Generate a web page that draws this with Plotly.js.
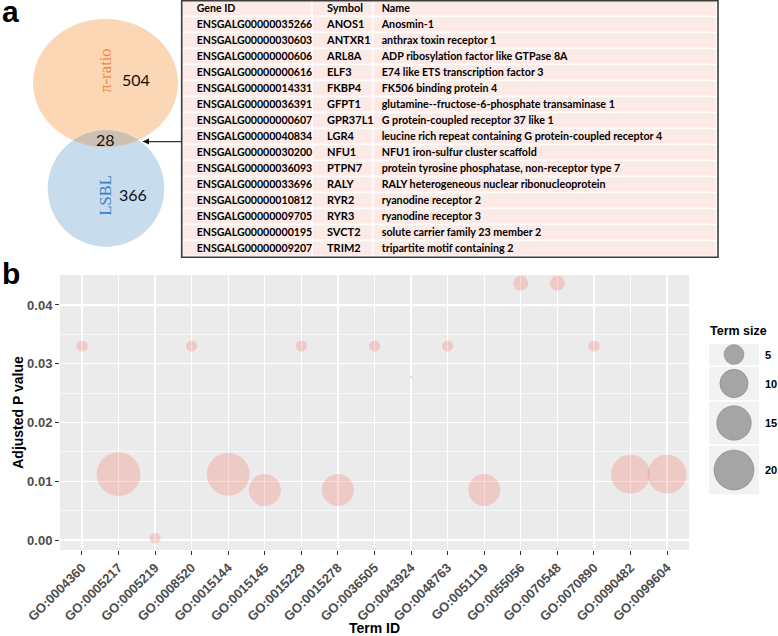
<!DOCTYPE html>
<html><head><meta charset="utf-8">
<script src="https://cdn.plot.ly/plotly-3.0.1.min.js"></script>
<style>html,body{margin:0;padding:0;background:#fff}#chart{width:778px;height:636px}</style>
</head><body><div id="chart"></div>
<script>
// ---------------- DATA ----------------
const vennLabels = ['π-ratio', 'LSBL'];
const vennCounts = [504, 28, 366];           // only π-ratio, shared, only LSBL

const tableHeader = ['Gene ID', 'Symbol', 'Name'];
const geneIds = ['ENSGALG00000035266','ENSGALG00000030603','ENSGALG00000000606','ENSGALG00000000616',
  'ENSGALG00000014331','ENSGALG00000036391','ENSGALG00000000607','ENSGALG00000040834','ENSGALG00000030200',
  'ENSGALG00000036093','ENSGALG00000033696','ENSGALG00000010812','ENSGALG00000009705','ENSGALG00000000195',
  'ENSGALG00000009207'];
const geneSymbols = ['ANOS1','ANTXR1','ARL8A','ELF3','FKBP4','GFPT1','GPR37L1','LGR4','NFU1','PTPN7','RALY',
  'RYR2','RYR3','SVCT2','TRIM2'];
const geneNames = ['Anosmin-1','anthrax toxin receptor 1','ADP ribosylation factor like GTPase 8A',
  'E74 like ETS transcription factor 3','FK506 binding protein 4',
  'glutamine--fructose-6-phosphate transaminase 1','G protein-coupled receptor 37 like 1',
  'leucine rich repeat containing G protein-coupled receptor 4','NFU1 iron-sulfur cluster scaffold',
  'protein tyrosine phosphatase, non-receptor type 7','RALY heterogeneous nuclear ribonucleoprotein',
  'ryanodine receptor 2','ryanodine receptor 3','solute carrier family 23 member 2',
  'tripartite motif containing 2'];

const goTerms = ['GO:0004360','GO:0005217','GO:0005219','GO:0008520','GO:0015144','GO:0015145',
  'GO:0015229','GO:0015278','GO:0036505','GO:0043924','GO:0048763','GO:0051119','GO:0055056',
  'GO:0070548','GO:0070890','GO:0090482','GO:0099604'];
const adjP = [0.0330, 0.0112, 0.0003, 0.0330, 0.0112, 0.0085, 0.0330, 0.0085, 0.0330, 0.0277,
  0.0330, 0.0085, 0.0437, 0.0437, 0.0330, 0.0112, 0.0112];
const termSize = [1.6, 24, 1.5, 1.6, 23, 12.8, 1.6, 12.8, 1.6, 0.1, 1.6, 12.8, 2.8, 2.8, 1.6, 19, 19];
const sizeBreaks = [5, 10, 15, 20];

// ---------------- LAYOUT HELPERS ----------------
const W = 778, H = 636;
const px = x => x / W;
const py = y => 1 - y / H;
const SIZEREF = 1 / 40;
const boldFont = 'Liberation Sans, Arial, sans-serif';
const tblFont = 'Lato, Open Sans, sans-serif';

// table geometry (pixels)
const tblLeft = 181.7, tblRight = 718, tblTop = 1.3, rowH = 16;
const colEdges = [tblLeft, 312.7, 374, tblRight];
const colTextX = [196.7, 327, 381.7];
const colFontSize = [10.6, 11, 10.7];
const nRows = geneIds.length + 1;
const tblBottom = tblTop + nRows * rowH;

// legend geometry
const keyTop = 343, keyHeights = [23, 35, 44, 50];
const keyBounds = [keyTop];
keyHeights.forEach(h => keyBounds.push(keyBounds[keyBounds.length - 1] + h));
const keyCenters = keyHeights.map((h, i) => (keyBounds[i] + keyBounds[i + 1]) / 2);

// venn geometry
const upper = {cx: 105.5, cy: 83, rx: 72.5, ry: 64};
const lower = {cx: 106, cy: 188.5, r: 58.3};
function lensPath() {
  const pts = [], N = 400;
  for (let i = 0; i <= N; i++) {
    const t = Math.PI * i / N;
    const x = upper.cx + upper.rx * Math.cos(t), y = upper.cy + upper.ry * Math.sin(t);
    if (Math.hypot(x - lower.cx, y - lower.cy) <= lower.r) pts.push([x, y]);
  }
  for (let i = 0; i <= N; i++) {
    const t = Math.PI + Math.PI * i / N;
    const x = lower.cx + lower.r * Math.cos(t), y = lower.cy + lower.r * Math.sin(t);
    if (((x - upper.cx) / upper.rx) ** 2 + ((y - upper.cy) / upper.ry) ** 2 <= 1) pts.push([x, y]);
  }
  return 'M' + pts.map(p => px(p[0]).toFixed(5) + ',' + py(p[1]).toFixed(5)).join('L') + 'Z';
}

// ---------------- TRACES ----------------
const traces = [];

// bubbles
traces.push({
  type: 'scatter', mode: 'markers', x: goTerms, y: adjP, xaxis: 'x', yaxis: 'y',
  marker: {size: termSize, sizemode: 'area', sizeref: SIZEREF, color: 'rgba(248,118,109,0.4)', line: {width: 0}},
  hoverinfo: 'x+y', cliponaxis: false
});

// legend keys
traces.push({
  type: 'scatter', mode: 'markers', x: sizeBreaks.map(() => 0.5), y: keyCenters, xaxis: 'x2', yaxis: 'y2',
  marker: {size: sizeBreaks, sizemode: 'area', sizeref: SIZEREF, color: 'rgba(0,0,0,0.45)',
    line: {width: 0.8, color: 'rgba(0,0,0,0.35)'}},
  hoverinfo: 'skip', cliponaxis: false
});

// table cells (background)
const rowEdges = [];
for (let i = 0; i <= nRows; i++) rowEdges.push(i - 0.5);
traces.push({
  type: 'heatmap', xaxis: 'x3', yaxis: 'y3', x: colEdges, y: rowEdges,
  z: rowEdges.slice(1).map(() => [1, 1, 1]),
  colorscale: [[0, '#FCEAE6'], [1, '#FCEAE6']], showscale: false, xgap: 1.6, ygap: 1.6, hoverinfo: 'skip'
});
// table text
const tableCols = [[tableHeader[0]].concat(geneIds), [tableHeader[1]].concat(geneSymbols), [tableHeader[2]].concat(geneNames)];
tableCols.forEach((col, c) => {
  traces.push({
    type: 'scatter', mode: 'text', xaxis: 'x3', yaxis: 'y3',
    x: col.map(() => colTextX[c]), y: col.map((_, i) => i), text: col,
    textposition: 'middle right', cliponaxis: false, hoverinfo: 'skip',
    textfont: {family: tblFont, size: colFontSize[c], color: '#000', weight: 'bold'}
  });
});

// ---------------- SHAPES ----------------
const shapes = [
  // panel background
  {type: 'rect', xref: 'x domain', yref: 'y domain', x0: 0, x1: 1, y0: 0, y1: 1,
    fillcolor: '#EBEBEB', line: {width: 0}, layer: 'below'},
  // venn
  {type: 'circle', xref: 'paper', yref: 'paper', x0: px(upper.cx - upper.rx), x1: px(upper.cx + upper.rx),
    y0: py(upper.cy + upper.ry), y1: py(upper.cy - upper.ry), fillcolor: '#FCD7B6', line: {width: 0}, layer: 'below'},
  {type: 'circle', xref: 'paper', yref: 'paper', x0: px(lower.cx - lower.r), x1: px(lower.cx + lower.r),
    y0: py(lower.cy + lower.r), y1: py(lower.cy - lower.r), fillcolor: '#C7DCED', line: {width: 0}, layer: 'below'},
  {type: 'path', xref: 'paper', yref: 'paper', path: lensPath(), fillcolor: '#CDBFB2', line: {width: 0}, layer: 'below'},
  // arrow
  {type: 'line', xref: 'paper', yref: 'paper', x0: px(147), x1: px(tblLeft), y0: py(141.6), y1: py(141.6),
    line: {color: '#333', width: 1.3}},
  {type: 'path', xref: 'paper', yref: 'paper',
    path: `M${px(142.5)},${py(141.6)}L${px(149)},${py(138.6)}L${px(149)},${py(144.6)}Z`,
    fillcolor: '#111', line: {width: 0}},
  // table frame
  {type: 'rect', xref: 'paper', yref: 'paper', x0: px(tblLeft), x1: px(tblRight), y0: py(tblBottom), y1: py(0.8),
    line: {color: '#3c3c3c', width: 1.6}, fillcolor: 'rgba(0,0,0,0)'}
];
// legend key backgrounds
keyHeights.forEach((h, i) => {
  shapes.push({type: 'rect', xref: 'x2 domain', yref: 'y2', x0: 0, x1: 1, y0: keyBounds[i] + 0.8, y1: keyBounds[i + 1] - 0.8,
    fillcolor: '#F2F2F2', line: {width: 0}, layer: 'below'});
});

// ---------------- ANNOTATIONS ----------------
const venn = (x, y, text, font, angle) => ({xref: 'paper', yref: 'paper', x: px(x), y: py(y), xanchor: 'center',
  yanchor: 'middle', text: text, textangle: angle || 0, showarrow: false, font: font});
const serif = 'Liberation Serif, DejaVu Serif, serif';
const annotations = [
  {xref: 'paper', yref: 'paper', x: px(0), y: py(11), xanchor: 'left', yanchor: 'middle', text: 'a', showarrow: false,
    font: {family: boldFont, size: 30, color: '#000', weight: 'bold'}},
  {xref: 'paper', yref: 'paper', x: px(0), y: py(273), xanchor: 'left', yanchor: 'middle', text: 'b', showarrow: false,
    font: {family: boldFont, size: 30, color: '#000', weight: 'bold'}},
  // venn labels
  venn(104.5, 71, vennLabels[0], {family: serif, size: 16.5, color: '#F0883C'}, -90),
  venn(105.5, 196, vennLabels[1], {family: serif, size: 16.5, color: '#3C82C4'}, -90),
  venn(135.5, 80, String(vennCounts[0]), {family: tblFont, size: 16, color: '#111'}),
  venn(106, 139, String(vennCounts[1]), {family: tblFont, size: 16, color: '#111'}),
  venn(133, 194, String(vennCounts[2]), {family: tblFont, size: 16, color: '#111'}),
  // legend title
  {xref: 'paper', yref: 'paper', x: px(708), y: py(331), xanchor: 'left', yanchor: 'middle', text: 'Term size', showarrow: false,
    font: {family: boldFont, size: 12.5, color: '#000', weight: 'bold'}}
];
sizeBreaks.forEach((b, i) => {
  annotations.push({xref: 'paper', yref: 'y2', x: px(763), y: keyCenters[i], xanchor: 'left', yanchor: 'middle', text: String(b),
    showarrow: false, font: {family: boldFont, size: 11, color: '#000', weight: 'bold'}});
});

// ---------------- LAYOUT ----------------
const tickFont = {family: boldFont, size: 13, color: '#4D4D4D', weight: 'bold'};
const layout = {
  width: W, height: H, margin: {l: 0, r: 0, t: 0, b: 0}, showlegend: false,
  paper_bgcolor: '#fff', plot_bgcolor: 'rgba(0,0,0,0)',
  xaxis: {
    domain: [px(60), px(689)], type: 'category', range: [-0.6, goTerms.length - 0.4],
    showgrid: true, gridcolor: '#fff', gridwidth: 1.2, zeroline: false, showline: false,
    ticks: 'outside', ticklen: 4, tickcolor: '#333', tickwidth: 1, tickangle: -45, tickfont: tickFont,
    title: {text: 'Term ID', font: {family: boldFont, size: 14, color: '#000', weight: 'bold'}, standoff: 2},
    fixedrange: true
  },
  yaxis: {
    domain: [py(550), py(275)], range: [-0.0017, 0.0451], dtick: 0.01, tick0: 0, tickformat: '.2f',
    showgrid: true, gridcolor: '#fff', gridwidth: 1.2, zeroline: false, showline: false,
    minor: {dtick: 0.005, tick0: 0, showgrid: true, gridcolor: '#fff', gridwidth: 0.6},
    ticks: 'outside', ticklen: 4, tickcolor: '#333', tickwidth: 1, tickfont: tickFont,
    title: {text: 'Adjusted P value', font: {family: boldFont, size: 14, color: '#000', weight: 'bold'}, standoff: 0},
    fixedrange: true
  },
  xaxis2: {domain: [px(709), px(759)], range: [0, 1], visible: false, fixedrange: true},
  yaxis2: {domain: [py(keyBounds[4]), py(keyBounds[0])], range: [keyBounds[4], keyBounds[0]], visible: false, fixedrange: true},
  xaxis3: {domain: [px(tblLeft), px(tblRight)], range: [tblLeft, tblRight], visible: false, fixedrange: true},
  yaxis3: {domain: [py(tblBottom), py(tblTop)], range: [nRows - 0.5, -0.5], visible: false, fixedrange: true},
  shapes: shapes, annotations: annotations
};

Plotly.newPlot('chart', traces, layout, {displayModeBar: false, staticPlot: true});
</script>
</body></html>
